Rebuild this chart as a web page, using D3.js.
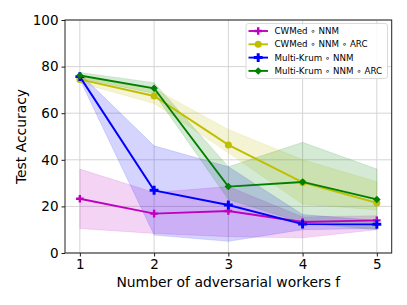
<!DOCTYPE html>
<html>
<head>
<meta charset="utf-8">
<script src="https://d3js.org/d3.v7.min.js"></script>
<style>
  body { margin: 0; background: #fff; }
  text { font-family: "DejaVu Sans", sans-serif; fill: #000; }
</style>
</head>
<body>
<div id="chart"></div>
<script>
// data
const workers = [1, 2, 3, 4, 5];

const cwmedNnm      = [23.3, 16.9, 18.0, 13.3, 14.0];
const cwmedNnmLo    = [10.5, 8.4, 7.0, 6.5, 10.0];
const cwmedNnmHi    = [36.0, 26.0, 28.5, 15.5, 16.0];

const cwmedArc      = [74.5, 67.4, 46.4, 30.3, 21.5];
const cwmedArcLo    = [73.0, 64.2, 43.0, 21.0, 18.5];
const cwmedArcHi    = [75.5, 70.5, 53.0, 40.0, 30.6];

const krumNnm       = [75.7, 26.9, 20.6, 12.4, 12.3];
const krumNnmLo     = [74.5, 7.7, 5.0, 10.0, 10.5];
const krumNnmHi     = [77.0, 46.0, 37.0, 16.5, 14.0];

const krumArc       = [76.2, 70.7, 28.5, 30.5, 23.0];
const krumArcLo     = [75.0, 68.5, 23.0, 13.0, 10.0];
const krumArcHi     = [77.5, 73.1, 37.0, 47.5, 36.0];

const yTicks = [0, 20, 40, 60, 80, 100];

const width = 407, height = 305;
const margin = {top: 20, right: 15.3, bottom: 52, left: 65};

const series = [
  {name: "CWMed \u2218 NNM",              color: "#bf00bf", marker: "plus",    y: cwmedNnm, lo: cwmedNnmLo, hi: cwmedNnmHi},
  {name: "CWMed \u2218 NNM \u2218 ARC",       color: "#bfbf00", marker: "circle",  y: cwmedArc, lo: cwmedArcLo, hi: cwmedArcHi},
  {name: "Multi-Krum \u2218 NNM",         color: "#0000ff", marker: "cross",   y: krumNnm,  lo: krumNnmLo,  hi: krumNnmHi},
  {name: "Multi-Krum \u2218 NNM \u2218 ARC",  color: "#008000", marker: "diamond", y: krumArc,  lo: krumArcLo,  hi: krumArcHi}
];

const svg = d3.select("#chart").append("svg")
    .attr("width", width)
    .attr("height", height);

const x = d3.scaleLinear().domain([0.8, 5.2]).range([margin.left, width - margin.right]);
const y = d3.scaleLinear().domain([0, 100]).range([height - margin.bottom, margin.top]);

// grid
const grid = svg.append("g").attr("stroke", "#d5d5d5").attr("stroke-width", 1);
grid.selectAll(".gx").data(workers).enter().append("line")
    .attr("x1", d => x(d)).attr("x2", d => x(d))
    .attr("y1", y(0)).attr("y2", y(100));
grid.selectAll(".gy").data(yTicks).enter().append("line")
    .attr("x1", x(0.8)).attr("x2", x(5.2))
    .attr("y1", d => y(d)).attr("y2", d => y(d));

// shaded bands
const area = d3.area()
    .x((d, i) => x(workers[i]))
    .y0(d => y(d[0]))
    .y1(d => y(d[1]));

series.forEach(s => {
  svg.append("path")
      .datum(s.lo.map((v, i) => [v, s.hi[i]]))
      .attr("fill", s.color)
      .attr("fill-opacity", 0.17)
      .attr("stroke", s.color)
      .attr("stroke-opacity", 0.12)
      .attr("d", area);
});

// lines + markers
const line = d3.line().x((d, i) => x(workers[i])).y(d => y(d));

function drawMarker(g, type, color, cx, cy) {
  if (type === "circle") {
    g.append("circle").attr("cx", cx).attr("cy", cy).attr("r", 3.5).attr("fill", color);
  } else if (type === "diamond") {
    g.append("path").attr("d", d3.symbol(d3.symbolSquare2, 36)())
      .attr("transform", `translate(${cx},${cy}) rotate(45)`).attr("fill", color);
  } else if (type === "cross") {
    g.append("path").attr("d", d3.symbol(d3.symbolCross, 44)())
      .attr("transform", `translate(${cx},${cy})`).attr("fill", color);
  } else if (type === "plus") {
    g.append("path").attr("d", `M${cx - 3.8},${cy}H${cx + 3.8}M${cx},${cy - 3.8}V${cy + 3.8}`)
      .attr("stroke", color).attr("stroke-width", 2.4);
  }
}

series.forEach(s => {
  svg.append("path")
      .datum(s.y)
      .attr("fill", "none")
      .attr("stroke", s.color)
      .attr("stroke-width", 1.9)
      .attr("d", line);
  const g = svg.append("g");
  s.y.forEach((v, i) => drawMarker(g, s.marker, s.color, x(workers[i]), y(v)));
});

// axes
const xAxis = svg.append("g")
    .attr("transform", `translate(0,${y(0)})`)
    .call(d3.axisBottom(x).tickValues(workers).tickFormat(d3.format("d")).tickSizeOuter(0).tickSize(3.5).tickPadding(3));
const yAxis = svg.append("g")
    .attr("transform", `translate(${x(0.8)},0)`)
    .call(d3.axisLeft(y).tickValues(yTicks).tickSizeOuter(0).tickSize(3.5).tickPadding(3));
[xAxis, yAxis].forEach(a => {
  a.selectAll("text").attr("font-size", 13.5).attr("font-family", "DejaVu Sans");
  a.select(".domain").remove();
  a.selectAll("line").attr("stroke", "#000").attr("stroke-width", 0.9);
});

// spines
svg.append("rect")
    .attr("x", x(0.8)).attr("y", y(100))
    .attr("width", x(5.2) - x(0.8)).attr("height", y(0) - y(100))
    .attr("fill", "none").attr("stroke", "#222").attr("stroke-width", 1);

// axis labels
svg.append("text")
    .attr("x", (x(0.8) + x(5.2)) / 2).attr("y", 286.5)
    .attr("text-anchor", "middle").attr("font-size", 13.9)
    .text("Number of adversarial workers f");
svg.append("text")
    .attr("transform", `translate(26,${(y(0) + y(100)) / 2}) rotate(-90)`)
    .attr("text-anchor", "middle").attr("font-size", 13.9)
    .text("Test Accuracy");

// legend
const legend = svg.append("g");
legend.append("rect")
    .attr("x", 246).attr("y", 23.5).attr("width", 141.5).attr("height", 55)
    .attr("rx", 2.5)
    .attr("fill", "#fff").attr("fill-opacity", 0.85)
    .attr("stroke", "#d0d0d0").attr("stroke-width", 0.8);
series.forEach((s, i) => {
  const ly = 31 + i * 13.3;
  legend.append("line")
      .attr("x1", 248.5).attr("x2", 268).attr("y1", ly).attr("y2", ly)
      .attr("stroke", s.color).attr("stroke-width", 1.9);
  drawMarker(legend, s.marker, s.color, 258.2, ly);
  legend.append("text")
      .attr("x", 274.5).attr("y", ly).attr("dy", "0.35em")
      .attr("font-size", 8.7)
      .text(s.name);
});
</script>
</body>
</html>
